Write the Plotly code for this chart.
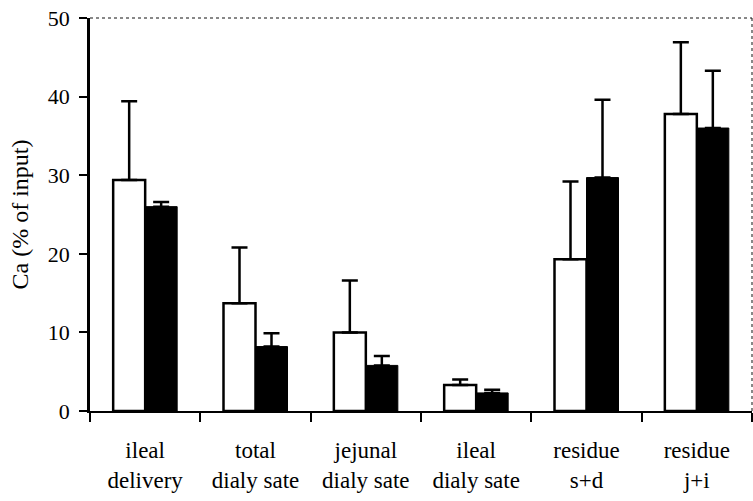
import plotly.graph_objects as go

categories = ["ileal<br>delivery", "total<br>dialy sate", "jejunal<br>dialy sate",
              "ileal<br>dialy sate", "residue<br>s+d", "residue<br>j+i"]
white_vals = [29.4, 13.7, 10.0, 3.3, 19.3, 37.8]
white_err = [10.0, 7.1, 6.6, 0.7, 9.9, 9.1]
black_vals = [26.0, 8.2, 5.8, 2.3, 29.7, 36.0]
black_err = [0.6, 1.7, 1.2, 0.4, 9.9, 7.3]
y_ticks = [0, 10, 20, 30, 40, 50]
y_title = "Ca (% of input)"

font_family = "Liberation Serif, Times New Roman, serif"

fig = go.Figure()
fig.add_trace(go.Bar(
    x=categories, y=white_vals, name="white",
    marker=dict(color="white", line=dict(color="black", width=2.5)),
    error_y=dict(type="data", symmetric=False, array=white_err,
                 arrayminus=[0] * len(white_err), color="black",
                 thickness=2.5, width=8),
))
fig.add_trace(go.Bar(
    x=categories, y=black_vals, name="black",
    marker=dict(color="black", line=dict(color="black", width=1)),
    error_y=dict(type="data", symmetric=False, array=black_err,
                 arrayminus=[0] * len(black_err), color="black",
                 thickness=2.5, width=8),
))

W, H = 753, 501
L, R, T, B = 90, 1, 18, 90
fig.update_layout(
    width=W, height=H,
    margin=dict(l=L, r=R, t=T, b=B),
    paper_bgcolor="white", plot_bgcolor="white",
    barmode="group", bargap=0.42, bargroupgap=0,
    showlegend=False,
    font=dict(family=font_family, size=22, color="black"),
    xaxis=dict(
        showline=True, linecolor="black", linewidth=2,
        ticks="outside", tickson="boundaries", ticklen=9, tickwidth=1.5,
        tickcolor="black", showgrid=False, zeroline=False,
        tickfont=dict(family=font_family, size=23),
        ticklabelstandoff=17,
    ),
    yaxis=dict(
        range=[0, 50], tickvals=y_ticks, ticktext=[str(v) for v in y_ticks],
        showline=True, linecolor="black", linewidth=2.5,
        ticks="outside", ticklen=8, tickwidth=1.5, tickcolor="black",
        showgrid=False, zeroline=False,
        tickfont=dict(family=font_family, size=22),
        ticklabelstandoff=5, ticklabeloverflow="allow",
    ),
    annotations=[
        dict(text=y_title, textangle=-90, xref="paper", yref="paper",
             x=-(L - 19) / (W - L - R), y=0.5, xanchor="center", yanchor="middle",
             showarrow=False, font=dict(family=font_family, size=24, color="black")),
    ],
    shapes=[
        dict(type="line", xref="paper", yref="paper", x0=0, x1=1, y0=1, y1=1,
             line=dict(color="#111111", width=1, dash="dot")),
        dict(type="line", xref="paper", yref="paper", x0=1, x1=1, y0=0, y1=1,
             line=dict(color="#111111", width=1, dash="dot")),
    ],
)

fig.write_html("out.html",
               config={"displayModeBar": False},
               post_script="document.body.style.margin='0';document.body.style.overflow='hidden';")
